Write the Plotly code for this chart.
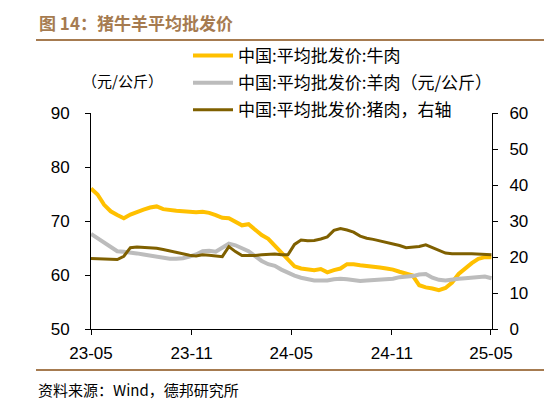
import pandas as pd
import plotly.graph_objects as go

# sample every 12 days, 2023-05-01 .. 2025-05-02
dates = pd.date_range("2023-05-01", periods=62, freq="12D")

beef = [76.0, 74.9, 73.0, 71.8, 71.1, 70.5, 71.2, 71.7, 72.1, 72.5,
        72.7, 72.2, 72.0, 71.9, 71.8, 71.7, 71.6, 71.7, 71.5, 71.1,
        70.6, 70.5, 69.9, 69.2, 69.4, 68.3, 67.4, 66.7, 65.4, 64.2,
        62.8, 61.6, 61.2, 61.0, 60.9, 61.1, 60.5, 60.9, 61.2, 62.0,
        62.0, 61.8, 61.7, 61.5, 61.4, 61.2, 61.0, 60.6, 60.2, 59.9,
        58.1, 57.7, 57.5, 57.2, 57.6, 58.6, 60.2, 61.3, 62.2, 63.0,
        63.3, 63.3]
mutton = [67.6, 66.8, 66.0, 65.2, 64.4, 64.3, 64.2, 64.0, 63.8, 63.6,
          63.4, 63.2, 63.0, 63.0, 63.1, 63.4, 63.8, 64.4, 64.5, 64.3,
          65.0, 65.8, 65.5, 65.0, 64.4, 63.5, 62.6, 62.0, 61.7, 61.0,
          60.4, 59.9, 59.5, 59.2, 59.0, 59.0, 59.0, 59.2, 59.3, 59.2,
          59.1, 58.9, 59.0, 59.1, 59.2, 59.3, 59.3, 59.6, 59.7, 59.8,
          60.1, 60.2, 59.5, 59.1, 59.0, 59.2, 59.3, 59.4, 59.5, 59.6,
          59.7, 59.4]
pork = [19.6, 19.5, 19.4, 19.3, 19.3, 20.2, 22.6, 22.8, 22.7, 22.6,
        22.4, 22.1, 21.7, 21.3, 20.8, 20.5, 20.3, 20.6, 20.5, 20.2,
        20.1, 22.9, 21.5, 20.4, 20.3, 20.4, 20.6, 20.8, 20.8, 20.6,
        20.6, 23.5, 24.7, 24.5, 24.6, 25.0, 25.6, 27.4, 27.9, 27.5,
        26.9, 25.8, 25.2, 24.9, 24.5, 24.0, 23.6, 23.2, 22.6, 22.8,
        22.9, 23.4, 22.6, 21.8, 21.1, 20.9, 20.8, 20.9, 20.9, 20.8,
        20.8, 20.6]

tick_vals = ["2023-05-01", "2023-11-01", "2024-05-01", "2024-11-01", "2025-05-01"]
tick_text = ["23-05", "23-11", "24-05", "24-11", "25-05"]

cjk = "Noto Sans CJK SC"
brown = "#A67B50"

fig = go.Figure()
fig.add_trace(go.Scatter(x=dates, y=beef, name="中国:平均批发价:牛肉", legendgroup="a",
                         mode="lines", line=dict(color="#FFC000", width=4)))
fig.add_trace(go.Scatter(x=dates, y=mutton, name="中国:平均批发价:羊肉（元/公斤）", legendgroup="b",
                         mode="lines", line=dict(color="#BCBCBC", width=4)))
fig.add_trace(go.Scatter(x=dates, y=pork, name="中国:平均批发价:猪肉，右轴", legendgroup="c",
                         mode="lines", line=dict(color="#7F6000", width=3), yaxis="y2"))

# page body has an 8px margin, so the figure is 544x402 and shifted by 8px
axis_font = dict(family="Liberation Sans, Arial", size=17, color="black")
fig.update_layout(
    width=544, height=402,
    margin=dict(l=83, r=60, t=105, b=81, autoexpand=False),
    paper_bgcolor="white", plot_bgcolor="white",
    showlegend=True,
    legend=dict(x=180 / 544, y=1 - 30 / 402, xref="container", yref="container",
                xanchor="left", yanchor="top", bgcolor="rgba(0,0,0,0)",
                font=dict(family=cjk, size=17, color="black"),
                tracegroupgap=2, itemwidth=40),
    xaxis=dict(type="date", range=["2023-05-01", "2025-05-03"],
               tickvals=tick_vals, ticktext=tick_text,
               ticks="outside", ticklen=5, tickcolor="black",
               showline=True, linecolor="black", linewidth=1,
               showgrid=False, zeroline=False, tickfont=axis_font,
               ticklabelstandoff=4),
    yaxis=dict(range=[50, 90], dtick=10, ticks="outside", ticklen=5,
               tickcolor="black", showline=True, linecolor="black",
               linewidth=1, showgrid=False, zeroline=False,
               tickfont=axis_font, ticklabelstandoff=12),
    yaxis2=dict(range=[0, 60], dtick=10, overlaying="y", side="right",
                ticks="outside", ticklen=5, tickcolor="black",
                showline=True, linecolor="black", linewidth=1,
                showgrid=False, zeroline=False, tickfont=axis_font,
                ticklabelstandoff=8),
)

# header / footer rules
fig.add_shape(type="line", xref="paper", yref="paper",
              x0=(36 - 91) / 401, x1=(552 - 91) / 401,
              y0=(329 - 40) / 216, y1=(329 - 40) / 216,
              line=dict(color=brown, width=2))
fig.add_shape(type="line", xref="paper", yref="paper",
              x0=(36 - 91) / 401, x1=(552 - 91) / 401,
              y0=(329 - 370) / 216, y1=(329 - 370) / 216,
              line=dict(color=brown, width=2))

fig.add_annotation(text="<b>图 14：猪牛羊平均批发价</b>", xref="paper", yref="paper",
                   x=(37 - 91) / 401, y=(329 - 22) / 216, xanchor="left", yanchor="middle",
                   showarrow=False, font=dict(family=cjk, size=17, color=brown))
fig.add_annotation(text="（元/公斤）", xref="paper", yref="paper",
                   x=(122 - 91) / 401, y=(329 - 80) / 216, xanchor="center", yanchor="middle",
                   showarrow=False, font=dict(family=cjk, size=15, color="black"))
fig.add_annotation(text="资料来源：Wind，德邦研究所", xref="paper", yref="paper",
                   x=(36 - 91) / 401, y=(329 - 389) / 216, xanchor="left", yanchor="middle",
                   showarrow=False, font=dict(family=cjk, size=15, color="black"))

fig.write_html("out.html")
